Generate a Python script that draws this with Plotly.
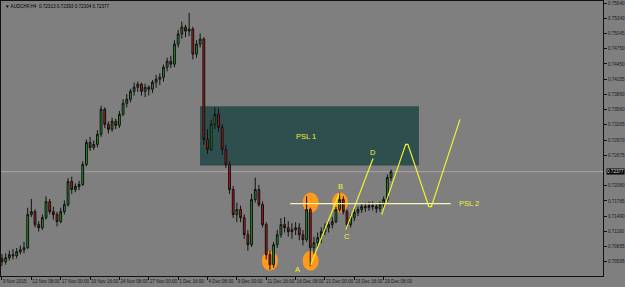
import plotly.graph_objects as go

# ---------------- data ----------------
closes = [0.70635, 0.70712, 0.70771, 0.70751, 0.70829, 0.70868, 0.70906, 0.71547, 0.71605, 0.71353,
          0.71294, 0.71488, 0.71799, 0.71605, 0.71547, 0.71411, 0.71605, 0.71741, 0.72187, 0.72032,
          0.72090, 0.72129, 0.72517, 0.72943, 0.72846, 0.72905, 0.73099, 0.73584, 0.73293, 0.73196,
          0.73351, 0.73273, 0.73487, 0.73700, 0.73778, 0.73933, 0.74010, 0.74069, 0.73933, 0.74010,
          0.73972, 0.74107, 0.74166, 0.74204, 0.74398, 0.74515, 0.74457, 0.74845, 0.75039, 0.75174,
          0.75097, 0.75136, 0.74651, 0.74845, 0.74942, 0.73002, 0.72808, 0.73293, 0.73487, 0.73234,
          0.72808, 0.72517, 0.72032, 0.71547, 0.71644, 0.71488, 0.71159, 0.70965, 0.71838, 0.72032,
          0.71741, 0.71353, 0.70771, 0.70577, 0.70965, 0.71159, 0.71353, 0.71294, 0.71217, 0.71256,
          0.71294, 0.71159, 0.71062, 0.71644, 0.70906, 0.71003, 0.71100, 0.71217, 0.71294, 0.71353,
          0.71411, 0.71644, 0.71838, 0.71605, 0.71353, 0.71488, 0.71585, 0.71644, 0.71702, 0.71682,
          0.71721, 0.71702, 0.71663, 0.71741, 0.71838, 0.72264, 0.72377]
highs = [0.7078, 0.7080, 0.7085, 0.7088, 0.7090, 0.7095, 0.7102, 0.7168, 0.7185, 0.7165,
         0.7142, 0.7155, 0.7190, 0.7185, 0.7170, 0.7160, 0.7168, 0.7182, 0.7225, 0.7228,
         0.7215, 0.7220, 0.7258, 0.7300, 0.7305, 0.7298, 0.7318, 0.7365, 0.7362, 0.7335,
         0.7342, 0.7340, 0.7355, 0.7378, 0.7388, 0.7398, 0.7410, 0.7412, 0.7410, 0.7408,
         0.7405, 0.7415, 0.7425, 0.7428, 0.7445, 0.7458, 0.7462, 0.7492, 0.7512, 0.7528,
         0.7522, 0.7545, 0.7518, 0.7492, 0.7505, 0.7498, 0.7320, 0.7338, 0.7362, 0.7360,
         0.7330, 0.7290, 0.7258, 0.7210, 0.7178, 0.7172, 0.7155, 0.7125, 0.7195, 0.7226,
         0.7212, 0.7180, 0.7140, 0.7085, 0.7102, 0.7125, 0.7148, 0.7150, 0.7142, 0.7138,
         0.7140, 0.7138, 0.7125, 0.7190, 0.7168, 0.7112, 0.7120, 0.7130, 0.7138, 0.7142,
         0.7150, 0.7170, 0.7197, 0.7190, 0.7165, 0.7155, 0.7165, 0.7170, 0.7176, 0.7178,
         0.7180, 0.7180, 0.7176, 0.7180, 0.7190, 0.7232, 0.7242]
lows = [0.7055, 0.7058, 0.7066, 0.7068, 0.7070, 0.7078, 0.7080, 0.7088, 0.7150, 0.7130,
        0.7122, 0.7125, 0.7145, 0.7155, 0.7145, 0.7132, 0.7138, 0.7155, 0.7170, 0.7195,
        0.7198, 0.7202, 0.7210, 0.7248, 0.7278, 0.7280, 0.7285, 0.7305, 0.7322, 0.7312,
        0.7315, 0.7320, 0.7322, 0.7345, 0.7362, 0.7372, 0.7385, 0.7392, 0.7385, 0.7382,
        0.7385, 0.7390, 0.7400, 0.7405, 0.7412, 0.7432, 0.7438, 0.7440, 0.7478, 0.7495,
        0.7498, 0.7500, 0.7455, 0.7458, 0.7478, 0.7290, 0.7272, 0.7278, 0.7320, 0.7315,
        0.7270, 0.7245, 0.7195, 0.7148, 0.7140, 0.7140, 0.7108, 0.7085, 0.7092, 0.7178,
        0.7170, 0.7130, 0.7068, 0.7048, 0.7052, 0.7090, 0.7110, 0.7120, 0.7112, 0.7108,
        0.7115, 0.7105, 0.7095, 0.7102, 0.7055, 0.7078, 0.7092, 0.7100, 0.7115, 0.7120,
        0.7128, 0.7138, 0.7160, 0.7155, 0.7128, 0.7130, 0.7142, 0.7152, 0.7158, 0.7160,
        0.7162, 0.7163, 0.7158, 0.7160, 0.7168, 0.7180, 0.7220]
first_open = 0.7070
opens = [first_open] + closes[:-1]
bars = list(range(len(closes)))

time_labels = ["9 Nov 2015", "12 Nov 08:00", "17 Nov 00:00", "19 Nov 16:00", "24 Nov 08:00",
               "27 Nov 00:00", "1 Dec 16:00", "4 Dec 08:00", "9 Dec 00:00", "11 Dec 16:00",
               "16 Dec 08:00", "21 Dec 00:00", "23 Dec 16:00", "29 Dec 08:00"]
time_label_bars = [0, 8, 16, 24, 32, 40, 48, 56, 64, 72, 80, 88, 96, 104]

price_labels = ["0.75640", "0.75340", "0.75045", "0.74750", "0.74450", "0.74155", "0.73860",
                "0.73560", "0.73265", "0.72970", "0.72675", "0.72080", "0.71785", "0.71490",
                "0.71190", "0.70895", "0.70595", "0.70340"]
price_ticks = [0.75640, 0.75346, 0.75051, 0.74757, 0.74462, 0.74168, 0.73873, 0.73579, 0.73284,
               0.72990, 0.72696, 0.72107, 0.71812, 0.71518, 0.71223, 0.70929, 0.70634, 0.70340]

title_text = "AUDCHF,H4  0.72313 0.72393 0.72304 0.72377"
current_price = 0.72377

# zone PSL 1 (bar, price)
psl1_bars = [53.95, 113.6]
psl1_prices = [0.72497, 0.73642]
# level PSL 2
psl2_bars = [78.5, 122.3]
psl2_price = 0.71760
# pattern lines
ab_bars = [84.1, 91.9]
ab_prices = [0.70577, 0.71954]
cd_bars = [93.7, 101.1]
cd_prices = [0.71256, 0.72633]
proj_bars = [103.46, 110.0, 110.6, 116.3, 117.0, 124.8]
proj_prices = [0.71547, 0.72905, 0.72905, 0.71702, 0.71702, 0.73390]
# marker circles
circle_bars = [73.0, 84.1, 84.1, 92.1]
circle_prices = [0.70654, 0.70654, 0.71779, 0.71779]
# point labels
pt_names = ["A", "B", "C", "D"]
pt_bars = [80.4, 92.1, 94.1, 101.2]
pt_prices = [0.70480, 0.72096, 0.71126, 0.72743]

BG = "#7f7f7f"
YEL = "#f2f230"

fig = go.Figure()
fig.add_trace(go.Candlestick(
    x=bars, open=opens, high=highs, low=lows, close=closes,
    increasing=dict(line=dict(color="#111111", width=1), fillcolor="#1e9e1e"),
    decreasing=dict(line=dict(color="#111111", width=1), fillcolor="#c81414"),
    whiskerwidth=0, showlegend=False, hoverinfo="skip"))

for xs, ys in [(ab_bars, ab_prices), (cd_bars, cd_prices), (proj_bars, proj_prices)]:
    fig.add_trace(go.Scatter(x=xs, y=ys, mode="lines", line=dict(color=YEL, width=1.2),
                             showlegend=False, hoverinfo="skip"))

shapes = []
shapes.append(dict(type="rect", xref="x", yref="y", x0=psl1_bars[0], x1=psl1_bars[1],
                   y0=psl1_prices[0], y1=psl1_prices[1], fillcolor="#2f4f4f",
                   line=dict(width=0), layer="below"))
for cx, cy in zip(circle_bars, circle_prices):
    shapes.append(dict(type="circle", xref="x", yref="y", xsizemode="pixel", ysizemode="pixel",
                       xanchor=cx, yanchor=cy, x0=-8, x1=8, y0=-10, y1=10,
                       fillcolor="#ff9a1a", line=dict(width=0), layer="below"))
shapes.append(dict(type="line", xref="paper", yref="y", x0=0, x1=1, y0=current_price,
                   y1=current_price, line=dict(color="#a6a6a6", width=1), layer="below"))
shapes.append(dict(type="line", xref="x", yref="y", x0=psl2_bars[0], x1=psl2_bars[1],
                   y0=psl2_price, y1=psl2_price, line=dict(color="#f5f5b0", width=1.2)))

annotations = []
annotations.append(dict(x=(psl1_bars[0] + psl1_bars[1]) / 2 - 1, y=0.7306, xref="x", yref="y",
                        text="PSL 1", showarrow=False,
                        font=dict(color=YEL, size=7.5, family="Liberation Sans")))
annotations.append(dict(x=psl2_bars[1] + 1.8, y=psl2_price, xref="x", yref="y", xanchor="left",
                        text="PSL 2", showarrow=False,
                        font=dict(color=YEL, size=7.5, family="Liberation Sans")))
for n, bx, py in zip(pt_names, pt_bars, pt_prices):
    annotations.append(dict(x=bx, y=py, xref="x", yref="y", text=n, showarrow=False,
                            font=dict(color=YEL, size=7.5, family="Liberation Sans")))
annotations.append(dict(x=0.004, y=0.995, xref="paper", yref="paper", xanchor="left",
                        yanchor="top", text="\u25bc " + title_text, showarrow=False,
                        font=dict(color="#000000", size=4.6, family="Liberation Sans")))
annotations.append(dict(x=1.0, y=current_price, xref="paper", yref="y", xanchor="left",
                        text=f"{current_price:.5f}", showarrow=False, bgcolor="#000000",
                        xshift=3, borderpad=0,
                        font=dict(color="#e0e0e0", size=4.6, family="Liberation Sans")))

fig.update_layout(
    width=625, height=287,
    margin=dict(l=1, r=22, t=1, b=11, autoexpand=False),
    paper_bgcolor=BG, plot_bgcolor=BG,
    shapes=shapes, annotations=annotations,
    xaxis=dict(range=[-0.27, 163.76], rangeslider=dict(visible=False), showgrid=False,
               zeroline=False, showline=True, linecolor="#111111", linewidth=1, mirror=True,
               tickvals=time_label_bars, ticktext=time_labels, ticks="outside", ticklen=3,
               tickcolor="#111111", ticklabelposition="outside right", tickangle=0,
               automargin=False,
               tickfont=dict(size=4.6, color="#1a1a1a", family="Liberation Sans")),
    yaxis=dict(range=[0.703594, 0.756788], side="right", showgrid=False, zeroline=False,
               showline=True, linecolor="#111111", linewidth=1, mirror=True,
               tickvals=price_ticks, ticktext=price_labels, ticks="outside", ticklen=3,
               tickcolor="#111111", automargin=False,
               tickfont=dict(size=4.6, color="#1a1a1a", family="Liberation Sans")),
)

fig.write_html("out.html")
